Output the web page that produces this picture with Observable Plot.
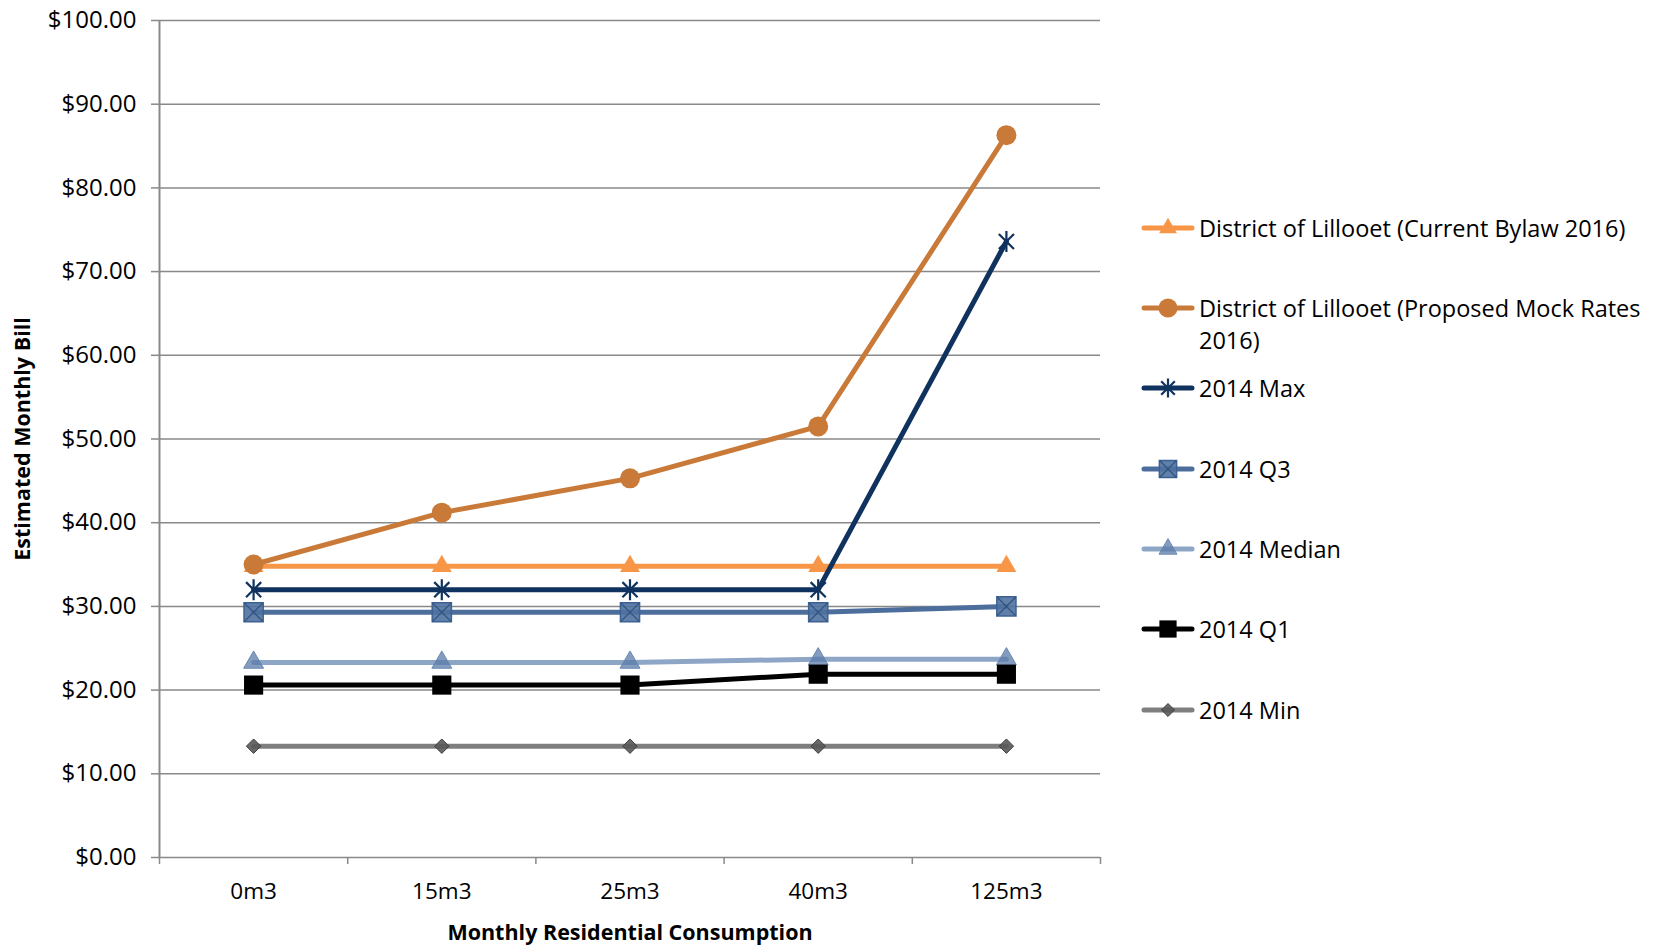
<!DOCTYPE html>
<html>
<head>
<meta charset="utf-8">
<script src="https://cdn.jsdelivr.net/npm/d3@7"></script>
<script src="https://cdn.jsdelivr.net/npm/@observablehq/plot@0.6"></script>
<style>
  html, body { margin: 0; padding: 0; background: #fff; }
  #wrap { position: relative; width: 1659px; height: 947px; font-family: "Open Sans", sans-serif; }
  #legend { position: absolute; left: 1141px; top: 0; }
  .item { position: absolute; left: 0; display: flex; align-items: flex-start; white-space: nowrap; font-size: 23.5px; color: #000; }
  .item svg { flex: none; }
  .item span { line-height: 32px; margin-left: 4px; }
</style>
</head>
<body>
<div id="wrap"><div id="legend"></div></div>
<script>
// ---- data ----
const categories = ["0m3", "15m3", "25m3", "40m3", "125m3"];
const seriesNames = [
  "District of Lillooet (Current Bylaw 2016)",
  "District of Lillooet (Proposed Mock Rates 2016)",
  "2014 Max",
  "2014 Q3",
  "2014 Median",
  "2014 Q1",
  "2014 Min"
];
const currentBylaw = [34.8, 34.8, 34.8, 34.8, 34.8];
const proposedMock = [35.0, 41.2, 45.3, 51.5, 86.3];
const max2014 = [32.0, 32.0, 32.0, 32.0, 73.6];
const q3_2014 = [29.3, 29.3, 29.3, 29.3, 30.0];
const median2014 = [23.3, 23.3, 23.3, 23.7, 23.7];
const q1_2014 = [20.6, 20.6, 20.6, 21.9, 21.9];
const min2014 = [13.3, 13.3, 13.3, 13.3, 13.3];
const yTicks = [0, 10, 20, 30, 40, 50, 60, 70, 80, 90, 100];

const allValues = [currentBylaw, proposedMock, max2014, q3_2014, median2014, q1_2014, min2014];

// custom excel-like marker shapes
const starSymbol = { draw(ctx, size) { const r = Math.sqrt(size / Math.PI); const d = r * 0.72;
  ctx.moveTo(0, -r); ctx.lineTo(0, r); ctx.moveTo(-d, -d); ctx.lineTo(d, d); ctx.moveTo(-d, d); ctx.lineTo(d, -d); } };
const crossSymbol = { draw(ctx, size) { const r = Math.sqrt(size / Math.PI) * 0.85;
  ctx.moveTo(-r, -r); ctx.lineTo(r, r); ctx.moveTo(-r, r); ctx.lineTo(r, -r); } };

// ---- styles (not data) ----
const styles = [
  { line: "#F79646", width: 5, marks: [{ symbol: "triangle", r: 7.4, fill: "#F79646", stroke: "none" }] },
  { line: "#C97A38", width: 5, marks: [{ symbol: "circle", r: 10, fill: "#C97A38", stroke: "none" }] },
  { line: "#10325E", width: 5, marks: [{ symbol: starSymbol, r: 10.5, fill: "none", stroke: "#10325E", sw: 2.2 }] },
  { line: "#4D6E9C", width: 5, marks: [
      { symbol: "square", r: 10.8, fill: "#4F71A0", fillOpacity: 0.9, stroke: "#3C6193", sw: 1.5 },
      { symbol: crossSymbol, r: 10.8, fill: "none", stroke: "#2F527F", sw: 1.2 }] },
  { line: "#8DA6C6", width: 5, marks: [{ symbol: "triangle", r: 7.4, fill: "#5A7BAA", fillOpacity: 0.75, stroke: "#6A88B0", sw: 1 }] },
  { line: "#000000", width: 5, marks: [{ symbol: "square", r: 10.8, fill: "#000000", stroke: "none" }] },
  { line: "#7F7F7F", width: 5, marks: [{ symbol: "diamond2", r: 6.5, fill: "#595959", fillOpacity: 0.9, stroke: "#3F3F3F", sw: 1 }] }
];

const table = [];
seriesNames.forEach((name, s) => categories.forEach((c, i) =>
  table.push({ series: name, s, i, cat: c, value: allValues[s][i] })));

const seriesMarks = [];
seriesNames.forEach((name, s) => {
  const d = table.filter(r => r.s === s);
  const st = styles[s];
  seriesMarks.push(Plot.line(d, { x: "i", y: "value", stroke: st.line, strokeWidth: st.width, strokeLinejoin: "round", strokeLinecap: "round" }));
  st.marks.forEach(m => seriesMarks.push(Plot.dot(d, { x: "i", y: "value", symbol: () => m.symbol, r: m.r,
    fill: m.fill, fillOpacity: m.fillOpacity ?? 1, stroke: m.stroke, strokeWidth: m.sw ?? 1 })));
});

const boundaries = d3.range(categories.length + 1).map(k => k - 0.5);

const chart = Plot.plot({
  width: 1659,
  height: 947,
  marginLeft: 159,
  marginRight: 559,
  marginTop: 20,
  marginBottom: 90,
  style: { fontFamily: "Open Sans, sans-serif", fontSize: "22px", color: "#000", background: "#fff" },
  symbol: { type: "identity" },
  x: { type: "linear", domain: [-0.5, categories.length - 0.5] },
  y: { domain: [0, 100] },
  marks: [
    Plot.gridY(yTicks, { stroke: "#898989", strokeOpacity: 1, strokeWidth: 1.5 }),
    Plot.axisY(yTicks, { tickSize: 8, tickPadding: 15, stroke: "#898989", strokeWidth: 1.5, label: null,
      tickFormat: d => "$" + d.toFixed(2), fontSize: 24, fill: "#000" }),
    Plot.ruleX([-0.5], { stroke: "#898989", strokeWidth: 2 }),
    Plot.axisX(boundaries, { tickSize: 7, stroke: "#898989", strokeWidth: 1.5, tickFormat: () => "", label: null }),
    Plot.axisX(d3.range(categories.length), { tickSize: 0, tickPadding: 26, tickFormat: i => categories[i], label: null, fontSize: 22.5, fill: "#000" }),
    ...seriesMarks,
    Plot.text(["Estimated Monthly Bill"], { frameAnchor: "left", dx: -136, rotate: -90, textAnchor: "middle", lineAnchor: "middle", fontWeight: "bold", fontSize: 21.5, fill: "#000" }),
    Plot.text(["Monthly Residential Consumption"], { frameAnchor: "bottom", dy: 76, textAnchor: "middle", lineAnchor: "middle", fontWeight: "bold", fontSize: 21.5, fill: "#000" })
  ]
});
document.getElementById("wrap").prepend(chart);
chart.style.position = "absolute";
chart.style.left = "0";
chart.style.top = "0";

// ---- legend ----
const legendTops = [212, 292, 372, 453, 533, 613, 694];
const legend = d3.select("#legend");
const symbolMap = { triangle: d3.symbolTriangle, circle: d3.symbolCircle, square: d3.symbolSquare, diamond2: d3.symbolDiamond2 };
seriesNames.forEach((name, s) => {
  const st = styles[s];
  const item = legend.append("div").attr("class", "item").style("top", legendTops[s] + "px");
  const svg = item.append("svg").attr("width", 54).attr("height", 32);
  svg.append("line").attr("x1", 3).attr("x2", 51).attr("y1", 16).attr("y2", 16)
    .attr("stroke", st.line).attr("stroke-width", st.width).attr("stroke-linecap", "round");
  st.marks.forEach(m => {
    const t = typeof m.symbol === "string" ? symbolMap[m.symbol] : m.symbol;
    const rr = s === 1 ? m.r * 0.95 : m.r * 0.9;
    svg.append("path").attr("d", d3.symbol(t, rr * rr * Math.PI)())
      .attr("transform", "translate(27,16)")
      .attr("fill", m.fill).attr("fill-opacity", m.fillOpacity ?? 1)
      .attr("stroke", m.stroke).attr("stroke-width", m.sw ?? 1);
  });
  const parts = s === 1 ? ["District of Lillooet (Proposed Mock Rates", "2016)"] : [name];
  const span = item.append("span");
  parts.forEach((p, k) => { if (k) span.append("br"); span.append("tspan").text(p); });
});
</script>
</body>
</html>
